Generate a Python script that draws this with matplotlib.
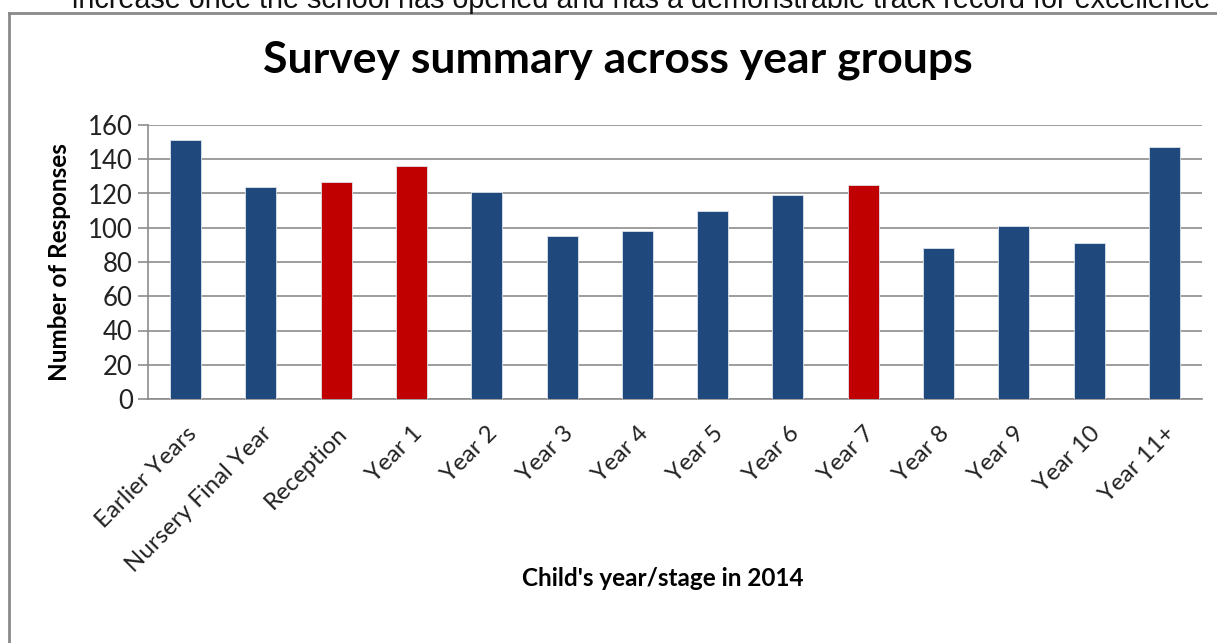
import matplotlib.pyplot as plt
from matplotlib.lines import Line2D

categories = ["Earlier Years", "Nursery Final Year", "Reception", "Year 1",
              "Year 2", "Year 3", "Year 4", "Year 5", "Year 6", "Year 7",
              "Year 8", "Year 9", "Year 10", "Year 11+"]
responses = [151, 124, 127, 136, 121, 95, 98, 110, 119, 125, 88, 101, 91, 147]
highlighted = ["Reception", "Year 1", "Year 7"]

BLUE = "#1F497D"
RED = "#C00000"
GRID = "#8C8C8C"
FONT = ["Lato", "DejaVu Sans"]

fig = plt.figure(figsize=(12.17, 6.43), dpi=100)
ax = fig.add_axes([148 / 1217, 1 - 399 / 643, (1202 - 148) / 1217, (399 - 125) / 643])

colors = [RED if c in highlighted else BLUE for c in categories]
x = range(len(categories))
ax.bar(x, responses, width=0.41, color=colors, edgecolor="#DDE3EC", linewidth=0.6, zorder=3)

ax.set_xlim(-0.5, len(categories) - 0.5)
ax.set_ylim(0, 160)
ax.set_yticks(range(0, 161, 20))
ax.yaxis.grid(True, color=GRID, linewidth=1.2, zorder=0)
ax.set_axisbelow(True)

for side in ["top", "right"]:
    ax.spines[side].set_visible(False)
for side in ["left", "bottom"]:
    ax.spines[side].set_color(GRID)
    ax.spines[side].set_linewidth(1.2)

ax.tick_params(axis="y", length=7, color=GRID, width=1.2, pad=4,
               labelsize=18.5, labelcolor="#222222")
ax.tick_params(axis="x", length=0, pad=17, labelsize=17.3, labelcolor="#222222")
for lab in ax.get_yticklabels():
    lab.set_family(FONT)

ax.set_xticks(list(x))
ax.set_xticklabels(categories, rotation=45, ha="right", rotation_mode="anchor",
                   family=FONT)

ax.set_ylabel("Number of Responses", fontsize=17.5, fontweight="bold",
              family=FONT, labelpad=12)
fig.text(663 / 1217, 1 - 578 / 643, "Child's year/stage in 2014", ha="center",
         va="center", fontsize=17.5, fontweight="bold", family=FONT)

fig.text(618 / 1217, 1 - 73 / 643, "Survey summary across year groups",
         ha="center", va="baseline", fontsize=32, fontweight="bold", family=FONT)

# cut-off line of body text above the chart frame
fig.text(641 / 1217, 1 - 8 / 643,
         "increase once the school has opened and has a demonstrable track record for excellence",
         ha="center", va="baseline", fontsize=20.7, family=["Liberation Sans", "DejaVu Sans"],
         color="#111111")

# chart frame (left and top edges visible)
fig.add_artist(Line2D([9 / 1217, 9 / 1217], [0, 1 - 13 / 643],
                      transform=fig.transFigure, color="#8A8A8A", linewidth=2))
fig.add_artist(Line2D([9 / 1217, 1], [1 - 13 / 643, 1 - 13 / 643],
                      transform=fig.transFigure, color="#8A8A8A", linewidth=2))

fig.savefig("out.png", dpi=100, facecolor="white")
